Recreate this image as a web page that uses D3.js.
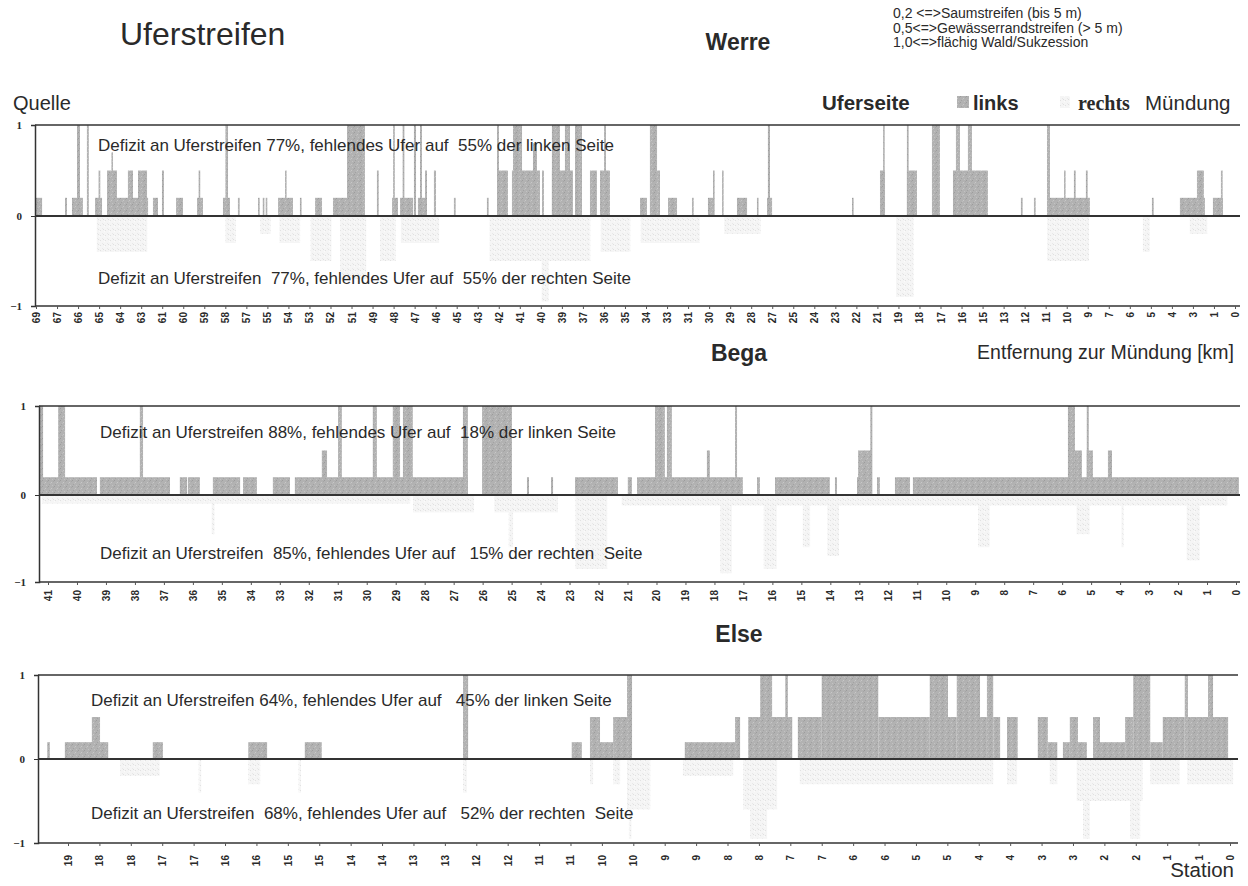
<!DOCTYPE html>
<html><head><meta charset="utf-8">
<script src="https://cdn.jsdelivr.net/npm/d3@7"></script>
<style>
body{margin:0;background:#fff}
text{font-family:"Liberation Sans",Arial,sans-serif;fill:#2a2a2a}
</style>
</head><body>
<svg id="c" width="1248" height="886"></svg>
<script>
// ---------------- DATA ----------------
// segments: [from km, to km, value]  (left bank > 0, right bank < 0)
const werreTicks = [69,67,66,65,64,63,61,60,59,58,57,55,54,53,52,51,49,48,47,46,45,43,42,41,40,39,37,36,35,34,33,31,30,29,28,27,25,24,23,22,21,19,18,17,16,15,13,12,11,10,9,7,6,5,4,3,1,0];
const werreLeft = [
[69.0,68.65,0.2],[67.33,67.22,0.2],[66.93,66.30,0.2],[66.64,66.47,1.0],[66.07,65.96,1.0],
[65.60,65.20,0.2],[65.40,65.30,0.5],[64.91,62.55,0.2],[64.91,64.34,0.5],[64.66,64.57,0.7],
[63.71,63.42,0.5],[63.13,62.61,0.5],[62.27,61.98,0.2],[61.75,61.64,0.5],[60.94,60.54,0.2],
[59.73,59.39,0.2],[59.64,59.55,0.5],[58.24,57.84,0.2],[58.10,57.95,1.0],[57.38,57.28,0.2],
[56.22,56.14,0.2],[55.95,55.88,0.2],[55.78,55.71,0.2],[55.07,54.21,0.2],[54.67,54.58,0.5],
[53.81,53.72,0.2],[52.94,52.54,0.2],[51.91,51.10,0.2],[51.10,50.07,1.0],[49.38,49.28,0.5],
[48.51,48.17,0.2],[48.45,48.35,1.0],[48.05,47.30,0.2],[47.90,47.80,1.0],[47.25,47.13,1.0],
[47.02,46.50,0.2],[46.90,46.79,1.0],[46.61,46.50,0.5],[46.10,45.98,0.5],[44.95,44.85,0.2],
[43.05,42.95,0.2],[42.47,41.84,0.5],[42.47,42.36,1.0],[41.61,40.00,0.5],[41.55,41.03,1.0],
[40.40,40.17,0.8],[39.88,39.77,0.5],[39.31,38.10,0.5],[39.31,38.85,1.0],[38.56,38.27,1.0],
[37.98,37.58,1.0],[37.12,36.72,0.5],[36.54,35.97,0.5],[36.31,36.20,1.0],[34.24,33.84,0.2],
[33.67,33.26,1.0],[33.26,33.09,0.5],[32.63,32.11,0.2],[31.25,31.15,0.2],[30.33,30.04,0.2],
[30.04,29.96,0.5],[29.52,29.43,0.5],[28.66,28.08,0.2],[27.51,27.42,0.2],[26.93,26.64,0.2],
[26.88,26.76,1.0],[22.04,21.95,0.2],[20.43,20.14,0.5],[20.25,20.16,1.0],[18.88,18.30,0.5],
[18.88,18.78,1.0],[17.44,16.98,1.0],[16.23,14.22,0.5],[16.06,15.83,1.0],[15.37,15.14,1.0],
[12.32,12.22,0.2],[11.57,11.47,0.2],[10.82,8.35,0.2],[10.82,10.65,1.0],[9.84,9.75,0.5],
[9.27,9.17,0.5],[8.58,8.48,0.5],[4.78,4.68,0.2],[3.17,1.73,0.2],[2.19,1.79,0.5],
[1.27,0.69,0.2],[0.81,0.71,0.5]
];
const werreRight = [
[65.5,62.6,-0.4],[58.1,57.5,-0.3],[56.1,55.5,-0.2],[55.0,53.8,-0.3],[53.2,52.0,-0.5],
[51.5,50.0,-0.7],[49.2,48.3,-0.5],[48.0,45.8,-0.3],[42.9,37.1,-0.5],[39.9,39.5,-0.95],
[36.5,34.8,-0.4],[34.2,30.8,-0.3],[29.4,27.3,-0.2],[19.5,18.5,-0.9],[10.8,8.4,-0.5],
[5.3,4.9,-0.4],[2.6,1.6,-0.2]
];

const begaTicks = [41,40,39,38,37,36,35,34,33,32,31,30,29,28,27,26,25,24,23,22,21,20,19,18,17,16,15,14,13,12,11,10,9,8,7,6,5,4,3,2,1,0];
const begaLeft = [
[41.28,41.17,1.0],[41.28,39.31,0.2],[40.65,40.41,1.0],[39.21,36.79,0.2],[37.83,37.72,1.0],
[36.45,36.20,0.2],[36.17,35.76,0.2],[35.31,34.37,0.2],[34.27,33.79,0.2],[33.24,32.65,0.2],
[32.48,26.51,0.2],[31.55,31.37,0.5],[30.99,30.86,1.0],[29.79,29.65,1.0],[29.10,28.85,1.0],
[28.75,28.41,1.0],[26.68,26.51,1.0],[26.02,24.99,1.0],[24.47,24.40,0.2],[23.64,23.57,0.2],
[22.81,21.33,0.2],[20.99,20.85,0.2],[20.67,17.02,0.2],[20.05,19.71,1.0],[19.64,19.47,1.0],
[18.26,18.16,0.5],[17.29,17.22,1.0],[16.53,16.43,0.2],[15.91,14.02,0.2],[13.84,13.77,0.2],
[13.08,12.57,0.2],[13.04,12.57,0.5],[12.62,12.55,1.0],[12.39,12.29,0.2],[11.77,11.25,0.2],
[11.15,-0.1,0.2],[5.80,5.56,1.0],[5.56,5.32,0.5],[5.15,4.94,0.5],[5.15,5.08,1.0],[4.42,4.28,0.5]
];
const begaRight = [
[41.2,28.5,-0.1],[35.35,35.25,-0.45],[28.4,26.3,-0.2],[25.6,23.4,-0.2],[25.1,24.95,-0.6],
[22.8,21.7,-0.85],[21.2,0.3,-0.12],[17.8,17.4,-0.9],[16.3,15.85,-0.85],[14.95,14.7,-0.6],
[14.1,13.7,-0.7],[8.9,8.5,-0.6],[5.5,5.05,-0.45],[3.95,3.88,-0.6],[1.7,1.25,-0.75]
];

const elseTicks = [19,18,18,17,17,16,16,15,15,14,14,13,13,12,12,11,11,10,10,9,9,8,8,7,7,6,6,5,5,4,4,3,3,2,2,1,1,0];
const elseLeft = [
[18.83,18.79,0.2],[18.55,17.86,0.2],[18.12,17.99,0.5],[17.15,16.99,0.2],[15.63,15.33,0.2],
[14.73,14.46,0.2],[12.21,12.13,1.0],[10.48,10.32,0.2],[10.19,10.03,0.5],[10.03,9.82,0.2],
[9.82,9.60,0.5],[9.60,9.52,1.0],[8.68,7.88,0.2],[7.88,7.80,0.5],[7.67,6.97,0.5],
[7.48,7.29,1.0],[7.08,7.04,1.0],[6.88,6.50,0.5],[6.50,5.60,1.0],[5.60,4.78,0.5],
[4.78,4.49,1.0],[4.49,4.35,0.5],[4.35,3.98,1.0],[3.98,3.87,0.5],[3.87,3.77,1.0],
[3.77,3.66,0.5],[3.55,3.38,0.5],[3.06,2.90,0.5],[2.90,2.75,0.2],[2.66,2.55,0.2],
[2.55,2.42,0.5],[2.42,2.28,0.2],[2.18,2.07,0.5],[2.07,1.67,0.2],[1.67,1.54,0.5],
[1.54,1.27,1.0],[1.27,1.07,0.2],[1.07,0.72,0.5],[0.72,0.67,1.0],[0.67,0.35,0.5],
[0.35,0.27,1.0],[0.27,0.03,0.5]
];
const elseRight = [
[17.67,17.04,-0.2],[16.42,16.38,-0.4],[15.63,15.44,-0.3],[14.83,14.79,-0.4],[12.21,12.15,-0.4],
[10.19,10.14,-0.3],[9.82,9.71,-0.3],[9.60,9.23,-0.6],[9.57,9.53,-0.95],[8.71,7.91,-0.2],
[7.75,7.21,-0.6],[7.64,7.37,-0.95],[6.85,3.77,-0.3],[3.55,3.39,-0.3],[2.87,2.75,-0.3],
[2.44,1.39,-0.5],[2.34,2.23,-0.95],[1.59,1.43,-0.95],[1.27,0.80,-0.3],[0.68,-0.05,-0.3]
];

const annoWerre = ["Defizit an Uferstreifen 77%, fehlendes Ufer auf  55% der linken Seite","Defizit an Uferstreifen  77%, fehlendes Ufer auf  55% der rechten Seite"];
const annoBega  = ["Defizit an Uferstreifen 88%, fehlendes Ufer auf  18% der linken Seite","Defizit an Uferstreifen  85%, fehlendes Ufer auf   15% der rechten  Seite"];
const annoElse  = ["Defizit an Uferstreifen 64%, fehlendes Ufer auf   45% der linken Seite","Defizit an Uferstreifen  68%, fehlendes Ufer auf   52% der rechten  Seite"];

// ---------------- DRAW ----------------
const svg = d3.select("#c");
const defs = svg.append("defs");
const pL = defs.append("pattern").attr("id","texL").attr("width",6).attr("height",6).attr("patternUnits","userSpaceOnUse");
pL.append("rect").attr("width",6).attr("height",6).attr("fill","#b2b2b2");
[[0,0,"#9c9c9c"],[3,2,"#c8c8c8"],[1,4,"#a2a2a2"],[4,5,"#c2c2c2"],[5,1,"#a6a6a6"],[2,3,"#bdbdbd"]].forEach(d=>
  pL.append("rect").attr("x",d[0]).attr("y",d[1]).attr("width",1).attr("height",1).attr("fill",d[2]));
const pR = defs.append("pattern").attr("id","texR").attr("width",5).attr("height",5).attr("patternUnits","userSpaceOnUse");
pR.append("rect").attr("width",5).attr("height",5).attr("fill","#f5f5f5");
[[0,0,"#e2e2e2"],[2,3,"#e8e8e8"],[4,1,"#fbfbfb"],[3,4,"#e0e0e0"]].forEach(d=>
  pR.append("rect").attr("x",d[0]).attr("y",d[1]).attr("width",1).attr("height",1).attr("fill",d[2]));

const panels = [
  {ticks:werreTicks,left:werreLeft,right:werreRight,anno:annoWerre,km:[69,0],xr:[36,1235],axisX:35,endX:1240,y:[306,216,125],annoX:98,annoY:[151,284],lblY:312},
  {ticks:begaTicks,left:begaLeft,right:begaRight,anno:annoBega,km:[41,0],xr:[48,1236],axisX:39,endX:1240,y:[582,495,406],annoX:100,annoY:[438,559],lblY:590},
  {ticks:elseTicks,left:elseLeft,right:elseRight,anno:annoElse,km:[18.5,0],xr:[68,1230],axisX:38,endX:1238,y:[843,759,675],annoX:91,annoY:[706,819],lblY:855}
];

panels.forEach(p=>{
  const x = d3.scaleLinear().domain(p.km).range(p.xr);
  const y = d3.scaleLinear().domain([-1,0,1]).range(p.y);
  const g = svg.append("g");
  const bar = (sel, data, fill)=> sel.selectAll(null).data(data).join("rect")
    .attr("x", d=>x(d[0]))
    .attr("width", d=>Math.max(1.6, x(d[1])-x(d[0])))
    .attr("y", d=>y(Math.max(0,d[2])))
    .attr("height", d=>Math.abs(y(d[2])-y(0)))
    .attr("fill", fill);
  bar(g.append("g"), p.right, "url(#texR)");
  bar(g.append("g"), p.left, "url(#texL)");

  [1,0,-1].forEach(v=>{
    g.append("line").attr("x1",p.axisX).attr("x2",p.endX).attr("y1",y(v)).attr("y2",y(v))
      .attr("stroke","#333").attr("stroke-width", v===0?1.8:1.5);
  });
  const ya = g.append("g").attr("transform",`translate(${p.axisX},0)`)
    .call(d3.axisLeft(y).tickValues([1,0,-1]).tickFormat(d3.format("d")).tickSize(4).tickPadding(9));
  ya.select(".domain").attr("stroke","#333").attr("stroke-width",1.5);
  ya.selectAll(".tick line").attr("stroke","#333");
  ya.selectAll("text").style("font-family","'Liberation Serif',serif").style("font-weight","bold")
    .style("font-size","11px").attr("fill","#222");
  const xp = d3.scalePoint().domain(d3.range(p.ticks.length)).range(p.xr);
  const xa = g.append("g").attr("transform",`translate(0,${y(-1)})`)
    .call(d3.axisBottom(xp).tickFormat(i=>p.ticks[i]).tickSize(3).tickPadding(0));
  xa.select(".domain").remove();
  xa.selectAll(".tick line").attr("stroke","#555");
  xa.selectAll("text")
    .attr("transform",`translate(0,${p.lblY-y(-1)}) rotate(-90)`)
    .attr("x",0).attr("y",0).attr("dy","0.35em")
    .attr("text-anchor","end")
    .style("font-size","10px").style("font-weight","bold").attr("fill","#333");
  p.anno.forEach((t,i)=>{
    g.append("text").attr("x",p.annoX).attr("y",p.annoY[i]).style("white-space","pre")
      .style("font-size","17px").text(t);
  });
});

// ---------------- HEADER TEXTS ----------------
const T = (x,y,t,opt={})=>{
  const e = svg.append("text").attr("x",x).attr("y",y).text(t)
    .style("font-size",(opt.size||16)+"px");
  if(opt.bold) e.style("font-weight","bold");
  if(opt.anchor) e.attr("text-anchor",opt.anchor);
  if(opt.family) e.style("font-family",opt.family);
  return e;
};
T(120,45,"Uferstreifen",{size:32});
T(738,50,"Werre",{size:23,bold:true,anchor:"middle"});
T(739,361,"Bega",{size:23,bold:true,anchor:"middle"});
T(739,642,"Else",{size:23,bold:true,anchor:"middle"});
T(893,18,"0,2 <=>Saumstreifen (bis 5 m)",{size:14});
T(893,33,"0,5<=>Gewässerrandstreifen (> 5 m)",{size:14});
T(893,47,"1,0<=>flächig Wald/Sukzession",{size:14});
T(13,110,"Quelle",{size:20});
T(822,110,"Uferseite",{bold:true,size:20.5});
svg.append("rect").attr("x",957).attr("y",96).attr("width",12).attr("height",12).attr("fill","url(#texL)");
T(973,110,"links",{bold:true,size:20});
svg.append("rect").attr("x",1060).attr("y",96).attr("width",10).attr("height",12).attr("fill","url(#texR)");
T(1078,110,"rechts",{bold:true,size:20,family:"'Liberation Serif',serif"});
T(1145,110,"Mündung",{size:20.5});
T(1234,359,"Entfernung zur Mündung [km]",{anchor:"end",size:19.5});
T(1234,877,"Station",{anchor:"end",size:20.5});
</script>
</body></html>
